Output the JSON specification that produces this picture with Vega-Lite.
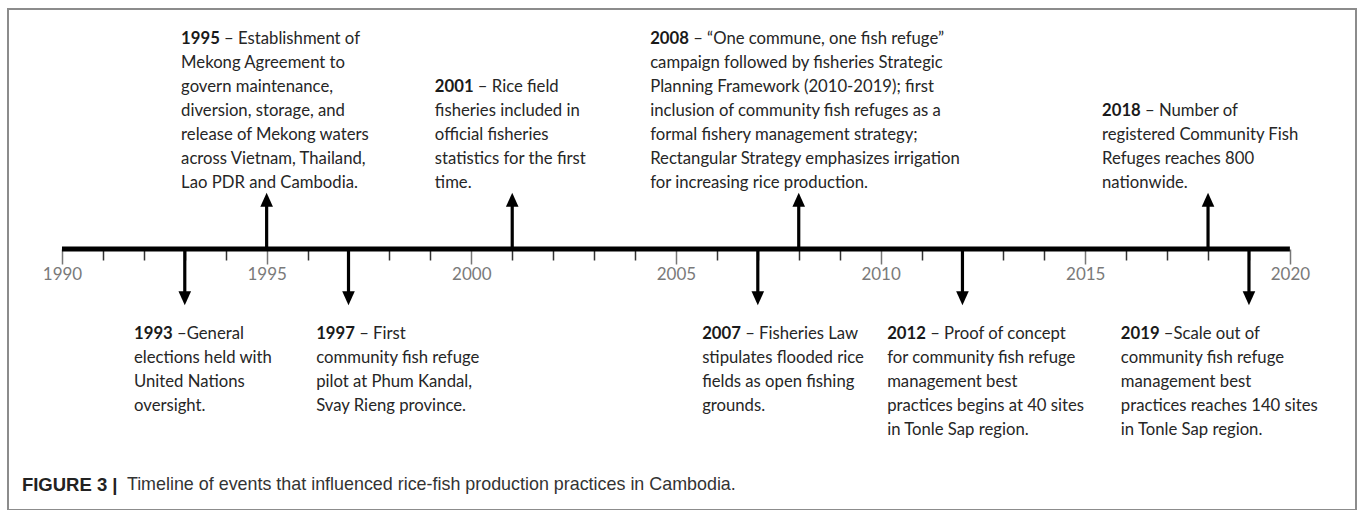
{
  "$schema": "https://vega.github.io/schema/vega-lite/v6.json",
  "width": 1360,
  "height": 510,
  "autosize": {"type": "fit", "contains": "padding"},
  "padding": {"left": 8, "top": 9, "right": 4, "bottom": 0},
  "background": "white",
  "view": {"stroke": "#8c8c8c", "strokeWidth": 2},
  "resolve": {"axis": {"x": "independent", "y": "independent"}},
  "datasets": {
    "events": [
      {"year": 1993, "dir": "down", "label_at": 1991.76},
      {"year": 1995, "dir": "up", "label_at": 1992.91},
      {"year": 1997, "dir": "down", "label_at": 1996.21},
      {"year": 2001, "dir": "up", "label_at": 1999.11},
      {"year": 2007, "dir": "down", "label_at": 2005.64},
      {"year": 2008, "dir": "up", "label_at": 2004.37},
      {"year": 2012, "dir": "down", "label_at": 2010.16},
      {"year": 2018, "dir": "up", "label_at": 2015.41},
      {"year": 2019, "dir": "down", "label_at": 2015.87}
    ],
    "lines": [
      {"year": 1993, "line": 0, "text": "–General"},
      {"year": 1993, "line": 1, "text": "elections held with"},
      {"year": 1993, "line": 2, "text": "United Nations"},
      {"year": 1993, "line": 3, "text": "oversight."},
      {"year": 1995, "line": 0, "text": "– Establishment of"},
      {"year": 1995, "line": 1, "text": "Mekong Agreement to"},
      {"year": 1995, "line": 2, "text": "govern maintenance,"},
      {"year": 1995, "line": 3, "text": "diversion, storage, and"},
      {"year": 1995, "line": 4, "text": "release of Mekong waters"},
      {"year": 1995, "line": 5, "text": "across Vietnam, Thailand,"},
      {"year": 1995, "line": 6, "text": "Lao PDR and Cambodia."},
      {"year": 1997, "line": 0, "text": "– First"},
      {"year": 1997, "line": 1, "text": "community fish refuge"},
      {"year": 1997, "line": 2, "text": "pilot at Phum Kandal,"},
      {"year": 1997, "line": 3, "text": "Svay Rieng province."},
      {"year": 2001, "line": 0, "text": "– Rice field"},
      {"year": 2001, "line": 1, "text": "fisheries included in"},
      {"year": 2001, "line": 2, "text": "official fisheries"},
      {"year": 2001, "line": 3, "text": "statistics for the first"},
      {"year": 2001, "line": 4, "text": "time."},
      {"year": 2007, "line": 0, "text": "– Fisheries Law"},
      {"year": 2007, "line": 1, "text": "stipulates flooded rice"},
      {"year": 2007, "line": 2, "text": "fields as open fishing"},
      {"year": 2007, "line": 3, "text": "grounds."},
      {"year": 2008, "line": 0, "text": "– “One commune, one fish refuge”"},
      {"year": 2008, "line": 1, "text": "campaign followed by fisheries Strategic"},
      {"year": 2008, "line": 2, "text": "Planning Framework (2010-2019); first"},
      {"year": 2008, "line": 3, "text": "inclusion of community fish refuges as a"},
      {"year": 2008, "line": 4, "text": "formal fishery management strategy;"},
      {"year": 2008, "line": 5, "text": "Rectangular Strategy emphasizes irrigation"},
      {"year": 2008, "line": 6, "text": "for increasing rice production."},
      {"year": 2012, "line": 0, "text": "– Proof of concept"},
      {"year": 2012, "line": 1, "text": "for community fish refuge"},
      {"year": 2012, "line": 2, "text": "management best"},
      {"year": 2012, "line": 3, "text": "practices begins at 40 sites"},
      {"year": 2012, "line": 4, "text": "in Tonle Sap region."},
      {"year": 2018, "line": 0, "text": "– Number of"},
      {"year": 2018, "line": 1, "text": "registered Community Fish"},
      {"year": 2018, "line": 2, "text": "Refuges reaches 800"},
      {"year": 2018, "line": 3, "text": "nationwide."},
      {"year": 2019, "line": 0, "text": "–Scale out of"},
      {"year": 2019, "line": 1, "text": "community fish refuge"},
      {"year": 2019, "line": 2, "text": "management best"},
      {"year": 2019, "line": 3, "text": "practices reaches 140 sites"},
      {"year": 2019, "line": 4, "text": "in Tonle Sap region."}
    ],
    "span": [{"from": 1990, "to": 2020, "level": 0}],
    "caption": [{"at": 1989.02, "bold": "FIGURE 3 |", "rest": "Timeline of events that influenced rice-fish production practices in Cambodia."}]
  },
  "layer": [
    {
      "data": {"name": "span"},
      "mark": {"type": "rule", "strokeWidth": 5, "color": "#000000"},
      "encoding": {
        "x": {
          "field": "from", "type": "quantitative",
          "scale": {"domain": [1988.681, 2021.615], "nice": false, "zero": false},
          "axis": {
            "orient": "bottom", "offset": -261, "title": null, "domain": false, "grid": false,
            "values": [1990,1991,1992,1993,1994,1995,1996,1997,1998,1999,2000,2001,2002,2003,2004,2005,2006,2007,2008,2009,2010,2011,2012,2013,2014,2015,2016,2017,2018,2019,2020],
            "format": "d",
            "labelExpr": "datum.value % 5 === 0 ? datum.label : ''",
            "tickSize": {"condition": {"test": "datum.value % 5 === 0", "value": 15}, "value": 11},
            "tickColor": {"condition": {"test": "datum.value % 5 === 0", "value": "#777777"}, "value": "#333333"},
            "tickWidth": 1.5,
            "labelFont": "Lato", "labelFontSize": 17, "labelColor": "#7a7a7a",
            "labelPadding": 2, "labelFlush": false, "labelOverlap": false
          }
        },
        "x2": {"field": "to"},
        "y": {"field": "level", "type": "quantitative", "scale": {"domain": [-10.875, 10], "nice": false, "zero": false}, "axis": null}
      }
    },
    {
      "data": {"name": "events"},
      "transform": [
        {"calculate": "datum.dir === 'up' ? 1.85 : -1.85", "as": "tip"},
        {"calculate": "0", "as": "base"}
      ],
      "mark": {"type": "rule", "strokeWidth": 3.2, "color": "#000000"},
      "encoding": {
        "x": {"field": "year", "type": "quantitative", "axis": null},
        "y": {"field": "base", "type": "quantitative", "axis": null},
        "y2": {"field": "tip"}
      }
    },
    {
      "data": {"name": "events"},
      "transform": [{"calculate": "datum.dir === 'up' ? 2.05 : -2.05", "as": "head"}],
      "mark": {"type": "point", "filled": true, "color": "#000000", "size": 196, "opacity": 1, "strokeWidth": 0},
      "encoding": {
        "x": {"field": "year", "type": "quantitative", "axis": null},
        "y": {"field": "head", "type": "quantitative", "axis": null},
        "shape": {"field": "dir", "type": "nominal", "scale": {"domain": ["up", "down"], "range": ["M-0.9,1L0.9,1L0,-1Z", "M-0.9,-1L0.9,-1L0,1Z"]}, "legend": null}
      }
    },
    {
      "data": {"name": "lines"},
      "transform": [
        {"lookup": "year", "from": {"data": {"name": "events"}, "key": "year", "fields": ["dir", "label_at"]}},
        {"joinaggregate": [{"op": "count", "as": "n"}], "groupby": ["year"]},
        {"calculate": "datum.dir === 'up' ? 2.75 + (datum.n - 1 - datum.line) : -3.54 - datum.line", "as": "v"}
      ],
      "encoding": {
        "x": {"field": "label_at", "type": "quantitative", "axis": null},
        "y": {"field": "v", "type": "quantitative", "axis": null}
      },
      "layer": [
        {
          "transform": [{"filter": "datum.line > 0"}],
          "mark": {"type": "text", "align": "left", "baseline": "middle", "font": "Lato", "fontSize": 16.7, "color": "#262626"},
          "encoding": {"text": {"field": "text", "type": "nominal"}}
        },
        {
          "transform": [{"filter": "datum.line === 0"}],
          "mark": {"type": "text", "align": "left", "baseline": "middle", "font": "Lato", "fontSize": 16.7, "color": "#262626", "dx": 43},
          "encoding": {"text": {"field": "text", "type": "nominal"}}
        },
        {
          "transform": [{"filter": "datum.line === 0"}],
          "mark": {"type": "text", "align": "left", "baseline": "middle", "font": "Lato", "fontSize": 16.7, "fontWeight": "bold", "color": "#1a1a1a"},
          "encoding": {"text": {"field": "year", "type": "nominal"}}
        }
      ]
    },
    {
      "data": {"name": "caption"},
      "transform": [{"calculate": "-9.83", "as": "v"}],
      "encoding": {
        "x": {"field": "at", "type": "quantitative", "axis": null},
        "y": {"field": "v", "type": "quantitative", "axis": null}
      },
      "layer": [
        {
          "mark": {"type": "text", "align": "left", "baseline": "middle", "font": "Liberation Sans", "fontSize": 18.5, "fontWeight": "bold", "color": "#222222"},
          "encoding": {"text": {"field": "bold", "type": "nominal"}}
        },
        {
          "mark": {"type": "text", "align": "left", "baseline": "middle", "font": "Liberation Sans", "fontSize": 17.9, "color": "#333333", "dx": 105},
          "encoding": {"text": {"field": "rest", "type": "nominal"}}
        }
      ]
    }
  ]
}
